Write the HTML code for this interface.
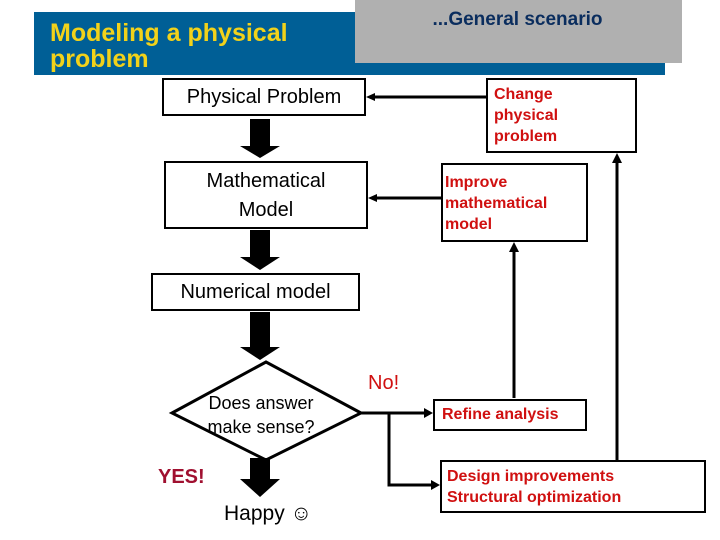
<!DOCTYPE html>
<html><head><style>
body{margin:0;width:720px;height:540px;background:#fff;overflow:hidden;position:relative;font-family:"Liberation Sans",sans-serif}
.a{position:absolute}
.box{position:absolute;border:2px solid #000;box-sizing:border-box;background:#fff}
.red{color:#d01010;font-weight:bold;font-size:16px;line-height:21px}
</style></head><body>
<div class="a" style="left:34px;top:12px;width:631px;height:63px;background:#005f96"></div>
<div class="a" style="left:355px;top:0;width:327px;height:63px;background:#b0b0b0"></div>
<div class="a" style="left:50px;top:20px;color:#f2d21a;font-weight:bold;font-size:25px;line-height:26px">Modeling a physical<br>problem</div>
<div class="a" style="left:355px;top:9px;width:325px;text-align:center;color:#0a2d5e;font-weight:bold;font-size:19px">...General scenario</div>

<div class="box" style="left:162px;top:78px;width:204px;height:38px;font-size:20px;text-align:center;line-height:34px">Physical Problem</div>
<div class="box" style="left:164px;top:161px;width:204px;height:68px;font-size:20px;text-align:center;line-height:29px;padding-top:4px">Mathematical<br>Model</div>
<div class="box" style="left:151px;top:273px;width:209px;height:38px;font-size:20px;text-align:center;line-height:34px">Numerical model</div>
<div class="box red" style="left:486px;top:78px;width:151px;height:75px;padding:4px 0 0 6px">Change<br>physical<br>problem</div>
<div class="box red" style="left:441px;top:163px;width:147px;height:79px;padding:7px 0 0 2px">Improve<br>mathematical<br>model</div>
<div class="box red" style="left:433px;top:399px;width:154px;height:32px;padding:3px 0 0 7px">Refine analysis</div>
<div class="box red" style="left:440px;top:460px;width:266px;height:53px;padding:4px 0 0 5px">Design improvements<br>Structural optimization</div>

<svg class="a" style="left:0;top:0" width="720" height="540">
<g fill="#000">
<rect x="250" y="119" width="20" height="28"/><polygon points="240,146 280,146 260,158"/>
<rect x="250" y="230" width="20" height="28"/><polygon points="240,257 280,257 260,270"/>
<rect x="250" y="312" width="20" height="36"/><polygon points="240,347 280,347 260,360"/>
<rect x="250" y="458" width="20" height="22"/><polygon points="240,479 280,479 260,497"/>
</g>
<polygon points="172,413 266,362 361,413 266,460" fill="none" stroke="#000" stroke-width="3"/>
<g stroke="#000" stroke-width="3" fill="none">
<line x1="486" y1="97" x2="372" y2="97"/>
<line x1="441" y1="198" x2="374" y2="198"/>
<line x1="361" y1="413" x2="426" y2="413"/>
<polyline points="389,413 389,485 433,485"/>
<line x1="514" y1="398" x2="514" y2="250"/>
<line x1="617" y1="460" x2="617" y2="160"/>
</g>
<g fill="#000">
<polygon points="366,97 375,93 375,101"/>
<polygon points="368,198 377,194 377,202"/>
<polygon points="433,413 424,408 424,418"/>
<polygon points="440,485 431,480 431,490"/>
<polygon points="514,242 509,252 519,252"/>
<polygon points="617,153 612,163 622,163"/>
</g>
</svg>
<div class="a" style="left:196px;top:391px;font-size:18px;line-height:24px;text-align:center;width:130px">Does answer<br>make sense?</div>
<div class="a" style="left:368px;top:372px;color:#d01010;font-size:20px">No!</div>
<div class="a" style="left:158px;top:466px;color:#a01030;font-size:20px;font-weight:bold">YES!</div>
<div class="a" style="left:224px;top:502px;font-size:21px">Happy ☺</div>
</body></html>
